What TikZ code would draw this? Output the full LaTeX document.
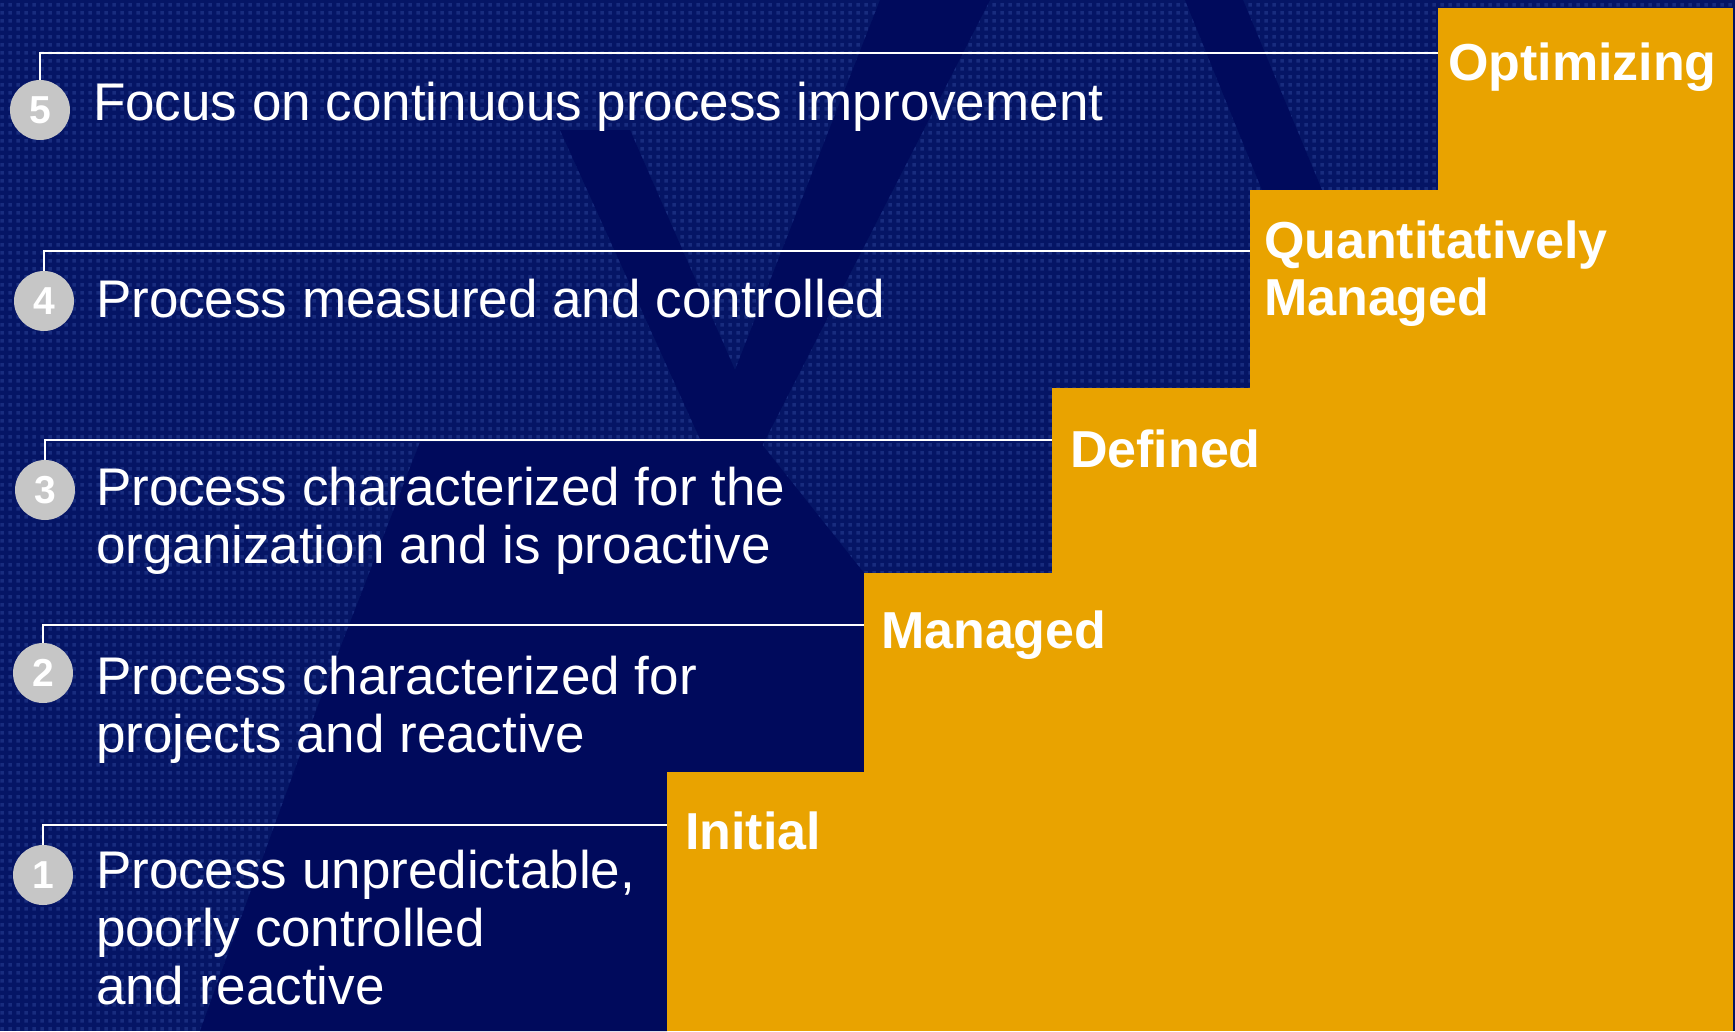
\documentclass[tikz,border=0pt]{standalone}
\usepackage{fontspec}
\setmainfont{Liberation Sans}
\usepackage{tikz}
\usetikzlibrary{positioning,fit,calc,patterns.meta}
\definecolor{stepO}{HTML}{E9A300}
\definecolor{navyD}{HTML}{000A5C}
\definecolor{navyT}{HTML}{051565}
\definecolor{meshB}{HTML}{182C7E}
\definecolor{badgeG}{HTML}{C6C6C6}
\tikzdeclarepattern{
  name=mesh,
  type=uncolored,
  bounding box={(0pt,0pt) and (8pt,8pt)},
  tile size={(8pt,8pt)},
  code={\fill (1.5pt,1.5pt) rectangle (5.5pt,5.5pt);}
}

\begin{document}
\begin{tikzpicture}[
  x=1pt,y=-1pt,
  every node/.style={inner sep=0pt,outer sep=0pt},
  stair/.style={fill=stepO,draw=none},
  badge/.style={circle,fill=badgeG,minimum size=60pt,text=white,
               font=\fontsize{39}{39}\selectfont\bfseries},
  desc/.style={text=white,align=left,anchor=base west,
               font=\fontsize{53}{58}\selectfont},
  lvl/.style={text=white,align=left,anchor=base west,
               font=\fontsize{52}{57}\selectfont\bfseries},
  conn/.style={white,line width=2.2pt},
  band/.style={fill=navyD,draw=none}
]
\useasboundingbox (0,0) rectangle (1735,1031);
% background
\fill[navyT] (0,0) rectangle (1735,1031);
\fill[pattern=mesh,pattern color=meshB] (0,0) rectangle (1735,1031);
\fill[band] (560,130) -- (630,130) -- (735,370) -- (880,0) -- (990,0)
  -- (760,450) -- (705,450) -- cycle;
\fill[band] (1185,0) -- (1243,0) -- (1322,190) -- (1262,190) -- cycle;
\fill[band] (420,442) -- (760,442) -- (864,573) -- (864,772) -- (667,772)
  -- (667,1031) -- (200,1031) -- (320,700) -- cycle;

% the staircase
\node[stair,fit={(667,772) (1733,1031)}] (s1) {};
\node[stair,fit={(864,573) (1733,1031)}] (s2) {};
\node[stair,fit={(1052,388) (1733,1031)}] (s3) {};
\node[stair,fit={(1250,190) (1733,1031)}] (s4) {};
\node[stair,fit={(1438,8) (1733,1031)}] (s5) {};

% (multi-line nodes sit on the baseline of their last line)
\node[lvl] (l5) at (1448,80)  {Optimizing};
\node[lvl] (l4) at (1264,315) {Quantitatively\\Managed};
\node[lvl] (l3) at (1070,467) {Defined};
\node[lvl] (l2) at (881,648)  {Managed};
\node[lvl] (l1) at (685,849)  {Initial};

% numbered levels
\node[badge] (c5) at (40,110) {5};
\node[badge] (c4) at (44,301) {4};
\node[badge] (c3) at (45,490) {3};
\node[badge] (c2) at (43,673) {2};
\node[badge] (c1) at (43,875) {1};

\draw[conn] (c5.north) |- (s5.west |- 0,53);
\draw[conn] (c4.north) |- (s4.west |- 0,251);
\draw[conn] (c3.north) |- (s3.west |- 0,440);
\draw[conn] (c2.north) |- (s2.west |- 0,625);
\draw[conn] (c1.north) |- (s1.west |- 0,825);

\node[desc] (d5) at (93,120)  {Focus on continuous process improvement};
\node[desc] (d4) at (96,317)  {Process measured and controlled};
\node[desc] (d3) at (96,563)  {Process characterized for the\\organization and is proactive};
\node[desc] (d2) at (96,752)  {Process characterized for\\projects and reactive};
\node[desc] (d1) at (96,1004) {Process unpredictable,\\poorly controlled\\and reactive};
\end{tikzpicture}
\end{document}
